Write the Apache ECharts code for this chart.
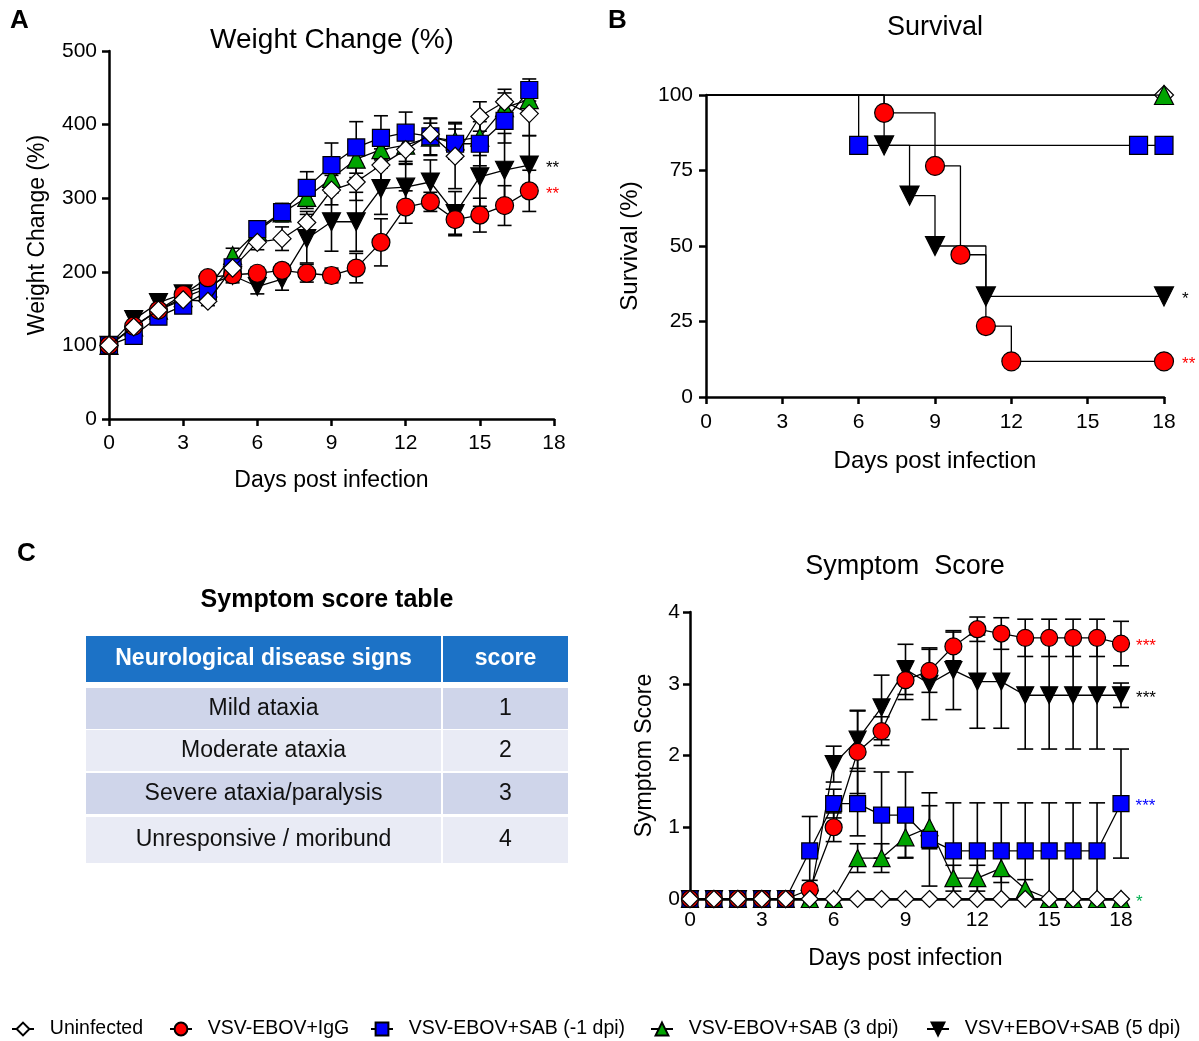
<!DOCTYPE html>
<html>
<head>
<meta charset="utf-8">
<script src="https://cdn.jsdelivr.net/npm/echarts@6/dist/echarts.min.js"></script>
<style>
    html, body { margin: 0; padding: 0; background: #fff; }
    #chart { width: 1199px; height: 1041px; }
</style>
</head>
<body>
<div id="chart"></div>
<script>
const FONT = "'Liberation Sans', Arial, sans-serif";

const groupNames = ["Uninfected", "VSV-EBOV+IgG", "VSV-EBOV+SAB (-1 dpi)", "VSV-EBOV+SAB (3 dpi)", "VSV+EBOV+SAB (5 dpi)"];

// A: weight change (%), days 0-17
const weightDays = [0, 1, 2, 3, 4, 5, 6, 7, 8, 9, 10, 11, 12, 13, 14, 15, 16, 17];
const wUninfected = [100, 125, 148, 162, 160, 205, 240, 245, 267, 311, 322, 345, 366, 387, 357, 411, 431, 415];
const wIgG = [100, 126, 148, 169, 192, 196, 198, 202, 198, 195, 205, 240, 288, 295, 271, 277, 290, 310];
const wSab1 = [100, 113, 139, 154, 174, 206, 258, 281, 314, 345, 369, 382, 389, 384, 374, 374, 405, 447];
const wSab3 = [100, 125, 148, 165, 178, 222, 255, 280, 301, 327, 353, 366, 372, 383, 378, 383, 423, 434];
const wSab5 = [100, 135, 158, 170, 182, 195, 180, 190, 245, 268, 268, 313, 315, 322, 279, 329, 338, 345];
const wUninfectedErr = [0, 6, 6, 6, 6, 8, 10, 16, 15, 20, 25, 22, 20, 15, 44, 20, 12, 30];
const wIgGErr = [0, 5, 5, 6, 8, 8, 8, 8, 12, 10, 20, 32, 22, 13, 20, 23, 27, 28];
const wSab1Err = [0, 5, 5, 6, 8, 10, 10, 12, 22, 30, 35, 30, 28, 25, 20, 30, 30, 15];
const wSab3Err = [0, 5, 5, 6, 8, 10, 10, 12, 15, 20, 25, 25, 25, 25, 25, 25, 25, 10];
const wSab5Err = [0, 6, 6, 8, 8, 10, 10, 15, 33, 40, 40, 35, 35, 30, 30, 40, 50, 40];
const weightStars = ["", "**", "", "", "**"];

// B: survival (%), Kaplan-Meier steps [day, percent]
const survUninfected = [[0, 100], [18, 100]];
const survIgG = [[0, 100], [7, 94.1], [9, 76.5], [10, 47.1], [11, 23.5], [12, 11.8], [18, 11.8]];
const survSab1 = [[0, 100], [6, 83.3], [17, 83.3], [18, 83.3]];
const survSab3 = [[0, 100], [18, 100]];
const survSab5 = [[0, 100], [7, 83.3], [8, 66.7], [9, 50], [11, 33.3], [18, 33.3]];
const survStars = ["", "**", "", "", "*"];

// C: symptom score, days 0-18
const scoreDays = [0, 1, 2, 3, 4, 5, 6, 7, 8, 9, 10, 11, 12, 13, 14, 15, 16, 17, 18];
const sUninfected = [0, 0, 0, 0, 0, 0, 0, 0, 0, 0, 0, 0, 0, 0, 0, 0, 0, 0, 0];
const sIgG = [0, 0, 0, 0, 0, 0.13, 1.0, 2.05, 2.34, 3.05, 3.18, 3.52, 3.76, 3.70, 3.64, 3.64, 3.64, 3.64, 3.56];
const sSab1 = [0, 0, 0, 0, 0, 0.67, 1.33, 1.33, 1.17, 1.17, 0.83, 0.67, 0.67, 0.67, 0.67, 0.67, 0.67, 0.67, 1.33];
const sSab3 = [0, 0, 0, 0, 0, 0, 0, 0.57, 0.57, 0.86, 1.0, 0.29, 0.29, 0.43, 0.14, 0, 0, 0, 0];
const sSab5 = [0, 0, 0, 0, 0, 0, 1.88, 2.22, 2.67, 3.2, 3.0, 3.19, 3.03, 3.03, 2.84, 2.84, 2.84, 2.84, 2.84];
const sUninfectedErr = [0, 0, 0, 0, 0, 0, 0, 0, 0, 0, 0, 0, 0, 0, 0, 0, 0, 0, 0];
const sIgGErr = [0, 0, 0, 0, 0, 0.13, 0.2, 0.58, 0.2, 0.27, 0.3, 0.2, 0.17, 0.22, 0.26, 0.26, 0.26, 0.26, 0.31];
const sSab1Err = [0, 0, 0, 0, 0, 0.48, 0.2, 0.45, 0.6, 0.6, 0.65, 0.67, 0.67, 0.67, 0.67, 0.67, 0.67, 0.67, 0.76];
const sSab3Err = [0, 0, 0, 0, 0, 0, 0, 0.2, 0.2, 0.28, 0.3, 0.18, 0.18, 0.2, 0.13, 0, 0, 0, 0];
const sSab5Err = [0, 0, 0, 0, 0, 0, 0.25, 0.4, 0.45, 0.35, 0.5, 0.55, 0.65, 0.65, 0.75, 0.75, 0.75, 0.75, 0.17];
const scoreStars = ["", "***", "***", "*", "***"];

// symptom score table
const tableHeader = ["Neurological disease signs", "score"];
const tableRows = [
    ["Mild ataxia", "1"],
    ["Moderate ataxia", "2"],
    ["Severe ataxia/paralysis", "3"],
    ["Unresponsive / moribund", "4"]
];

const groupStyle = [
    { symbol: "diamond", fill: "#ffffff", rotate: 0, star: "#000000" },
    { symbol: "circle", fill: "#ff0000", rotate: 0, star: "#ff0000" },
    { symbol: "rect", fill: "#0000ff", rotate: 0, star: "#0000ff" },
    { symbol: "triangle", fill: "#00a400", rotate: 0, star: "#00b050" },
    { symbol: "triangle", fill: "#000000", rotate: 180, star: "#000000" }
];

const weightSets = [wUninfected, wIgG, wSab1, wSab3, wSab5];
const weightErrSets = [wUninfectedErr, wIgGErr, wSab1Err, wSab3Err, wSab5Err];
const survSets = [survUninfected, survIgG, survSab1, survSab3, survSab5];
const scoreSets = [sUninfected, sIgG, sSab1, sSab3, sSab5];
const scoreErrSets = [sUninfectedErr, sIgGErr, sSab1Err, sSab3Err, sSab5Err];

function axisBase(extra, labelMargin, nameSize) {
    return Object.assign({
        type: "value",
        axisLine: { show: true, onZero: false, lineStyle: { color: "#000", width: 2.5 } },
        axisTick: { show: true, length: 7, lineStyle: { color: "#000", width: 2.5 } },
        axisLabel: { color: "#000", fontSize: 21, fontFamily: FONT, margin: labelMargin },
        splitLine: { show: false },
        nameLocation: "middle",
        nameTextStyle: { color: "#000", fontSize: nameSize, fontFamily: FONT }
    }, extra);
}

function starLabel(stars, color, distance) {
    return {
        show: true,
        position: "right",
        distance,
        formatter: stars,
        color,
        fontSize: 17,
        fontFamily: FONT,
        offset: [0, 3]
    };
}

function lineSeries(panel, g, points, size, stars, starDistance, extra) {
    const st = groupStyle[g];
    const data = points.map((p, i) => {
        const item = { value: p };
        if (stars && i === points.length - 1) item.label = starLabel(stars, st.star, starDistance);
        return item;
    });
    return Object.assign({
        name: groupNames[g],
        type: "line",
        xAxisIndex: panel,
        yAxisIndex: panel,
        data,
        symbol: st.symbol,
        symbolSize: size,
        symbolRotate: st.rotate,
        showAllSymbol: true,
        lineStyle: { color: "#000", width: 1.3 },
        itemStyle: { color: st.fill, borderColor: "#000", borderWidth: 1.2 },
        emphasis: { disabled: true },
        animation: false
    }, extra);
}

function errorBars(panel, days, mean, err, half) {
    return {
        type: "custom",
        name: "err",
        xAxisIndex: panel,
        yAxisIndex: panel,
        silent: true,
        z: 1,
        data: days.map((d, i) => [d, mean[i], err[i]]),
        encode: { x: 0, y: 1 },
        renderItem(params, api) {
            const x = api.value(0);
            const y = api.value(1);
            const e = api.value(2);
            if (!e) return null;
            const hi = api.coord([x, y + e]);
            const lo = api.coord([x, Math.max(0, y - e)]);
            const style = { stroke: "#000", lineWidth: 1.6 };
            return {
                type: "group",
                children: [
                    { type: "line", shape: { x1: hi[0], y1: hi[1], x2: lo[0], y2: lo[1] }, style },
                    { type: "line", shape: { x1: hi[0] - half, y1: hi[1], x2: hi[0] + half, y2: hi[1] }, style },
                    { type: "line", shape: { x1: lo[0] - half, y1: lo[1], x2: lo[0] + half, y2: lo[1] }, style }
                ]
            };
        }
    };
}

const series = [];

// panel A
[4, 3, 2, 1, 0].forEach((g, k) => {
    series.push(errorBars(0, weightDays, weightSets[g], weightErrSets[g], 7));
    const pts = weightDays.map((d, i) => [d, weightSets[g][i]]);
    series.push(lineSeries(0, g, pts, g === 2 ? 17 : 18, weightStars[g], 7, { z: 3 + k }));
});

// panel B
[4, 2, 1, 0, 3].forEach((g, k) => {
    const s = lineSeries(1, g, survSets[g], g === 2 ? 18 : 19, survStars[g], 8, { step: "end", z: 3 + k });
    s.data = s.data.map((item, i) => i === 0 ? Object.assign(item, { symbol: "none" }) : item);
    series.push(s);
});

// panel C
[4, 3, 2, 1, 0].forEach((g, k) => {
    series.push(errorBars(2, scoreDays, scoreSets[g], scoreErrSets[g], 8));
    const pts = scoreDays.map((d, i) => [d, scoreSets[g][i]]);
    series.push(lineSeries(2, g, pts, g === 2 ? 16 : 17, scoreStars[g], 6, { z: 3 + k }));
});

function text(x, y, str, font, fill, align) {
    return {
        type: "text",
        x, y,
        silent: true,
        style: {
            text: str, font, fill: fill || "#000",
            textAlign: align || "center", align: align || "center",
            textVerticalAlign: "middle", verticalAlign: "middle"
        }
    };
}

const graphics = [
    text(10, 21, "A", "bold 26px " + FONT, "#000", "left"),
    text(608, 21, "B", "bold 26px " + FONT, "#000", "left"),
    text(17, 554, "C", "bold 26px " + FONT, "#000", "left"),
    text(332, 40, "Weight Change (%)", "28px " + FONT),
    text(935, 28, "Survival", "27px " + FONT),
    text(905, 567, "Symptom  Score", "27px " + FONT),
    text(327, 600, "Symptom score table", "bold 25px " + FONT)
];

// table
const colX = [86, 443];
const colW = [355, 125];
const headerY = 636, headerH = 46;
const rowY = [688, 730, 773, 817];
const rowH = [41, 41, 41, 46];
const rowFill = ["#cfd5ea", "#e9ebf5"];
tableHeader.forEach((h, c) => {
    graphics.push({ type: "rect", shape: { x: colX[c], y: headerY, width: colW[c], height: headerH }, style: { fill: "#1c72c6" }, silent: true });
    graphics.push(text(colX[c] + colW[c] / 2, headerY + headerH / 2, h, "bold 23px " + FONT, "#fff"));
});
tableRows.forEach((row, r) => {
    row.forEach((cell, c) => {
        graphics.push({ type: "rect", shape: { x: colX[c], y: rowY[r], width: colW[c], height: rowH[r] }, style: { fill: rowFill[r % 2] }, silent: true });
        graphics.push(text(colX[c] + colW[c] / 2, rowY[r] + rowH[r] / 2, cell, "23px " + FONT, "#111"));
    });
});

const legendLeft = [6, 164, 365, 645, 921];

const chart = echarts.init(document.getElementById("chart"), null, { renderer: "canvas" });
chart.setOption({
    animation: false,
    backgroundColor: "#fff",
    textStyle: { fontFamily: FONT },
    grid: [
        { left: 109, top: 51, width: 445, height: 368 },
        { left: 706, top: 95, width: 458, height: 302 },
        { left: 690, top: 612, width: 431, height: 287 }
    ],
    xAxis: [
        axisBase({ gridIndex: 0, min: 0, max: 18, interval: 3, name: "Days post infection", nameGap: 50 }, 14, 23),
        axisBase({ gridIndex: 1, min: 0, max: 18, interval: 3, name: "Days post infection", nameGap: 52 }, 15, 24),
        axisBase({ gridIndex: 2, min: 0, max: 18, interval: 3, name: "Days post infection", nameGap: 48 }, 11, 23)
    ],
    yAxis: [
        axisBase({ gridIndex: 0, min: 0, max: 500, interval: 100, name: "Weight Change (%)", nameGap: 60 }, 12, 23),
        axisBase({ gridIndex: 1, min: 0, max: 100, interval: 25, name: "Survival (%)", nameGap: 64 }, 13, 24),
        axisBase({ gridIndex: 2, min: 0, max: 4, interval: 1, name: "Symptom Score", nameGap: 34 }, 10, 23)
    ],
    legend: groupNames.map((n, i) => ({
        data: [n],
        left: legendLeft[i],
        top: 1014,
        itemWidth: 22,
        itemHeight: 16,
        selectedMode: false,
        formatter: "  {name}",
        textStyle: { color: "#000", fontSize: 19.5, fontFamily: FONT }
    })),
    series,
    graphic: graphics
});
</script>
</body>
</html>
